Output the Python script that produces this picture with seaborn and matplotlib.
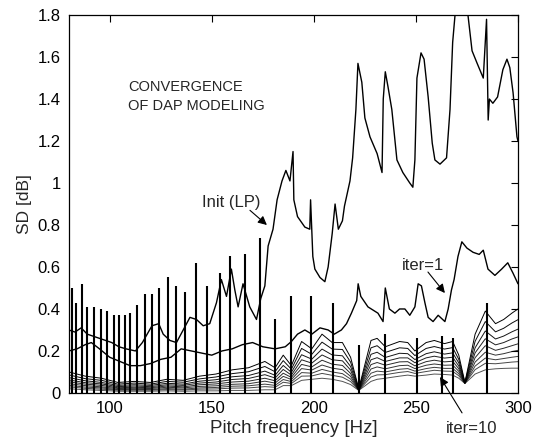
import numpy as np
import pandas as pd
import matplotlib
matplotlib.use("Agg")
import matplotlib.pyplot as plt
import seaborn as sns

# ---- data ----
# initial LP model
init_hz = [80, 83, 86, 89, 92, 95, 98, 101, 104.5, 108, 112.6, 116, 120.7, 124, 126.2, 129.5,
           132.7, 136, 139.3, 142.5, 145.8, 149, 152.3, 154.7, 157.2, 159.6, 161.3, 162.9, 165.3,
           168.6, 171.9, 174, 176, 177.6, 180, 182, 184.4, 186.3, 188.3, 189.8, 190.2, 192, 195.6,
           198, 198.4, 199.5, 200.5, 203, 205.4, 207, 209, 210.4, 212, 214, 215, 217.7, 219, 220.6,
           221.6, 223.5, 225, 227.5, 231, 233.4, 234, 235, 236.3, 238.2, 240.7, 243.6, 247, 248.5,
           249.5, 250.5, 252.5, 254, 256, 258, 259.3, 261.8, 265, 266.7, 268, 269.6, 272, 274,
           275.5, 277.5, 280, 283, 284.6, 285.4, 286, 287.7, 290, 292.6, 294.6, 296, 297.6, 299.5, 300]
init_sd = [.30, .29, .31, .28, .27, .26, .25, .24, .22, .21, .20, .24, .32, .33, .28, .25,
           .24, .30, .36, .35, .32, .33, .43, .54, .46, .59, .49, .41, .52,
           .41, .35, .45, .51, .70, .78, .92, 1.01, 1.06, 1.01, 1.15, .92, .84, .79,
           .78, .92, .65, .59, .55, .53, .60, .76, .90, .78, .82, .89, 1.01, 1.12, 1.35,
           1.57, 1.48, 1.31, 1.22, 1.14, 1.05, 1.40, 1.53, 1.46, 1.35, 1.11, 1.05, 1.00, .98,
           1.11, 1.50, 1.62, 1.59, 1.41, 1.19, 1.11, 1.09, 1.12, 1.35, 1.67, 1.85, 2.1, 1.95,
           1.8, 1.63, 1.57, 1.50, 1.78, 1.30, 1.40, 1.38, 1.41, 1.54, 1.59, 1.55, 1.43, 1.22, 1.20]

# first iteration
it1_hz = [80, 84, 88, 91, 95, 100, 105, 110, 115, 120, 125, 130, 135, 140, 145, 150, 155, 160,
          165, 170, 175, 181, 186, 189, 192, 195.6, 199, 203, 207, 210, 213.5, 216, 218.4, 221,
          221.7, 223, 226.5, 231.4, 233.9, 235, 237, 239.7, 242, 244.6, 247, 249.5, 251.1, 252.7,
          254.4, 256, 258.4, 260.9, 264.2, 265.8, 267.4, 268.7, 270.6, 272.5, 275, 278, 281, 283,
          285.3, 288.7, 292, 295, 297.6, 300]
it1_sd = [.20, .21, .23, .24, .21, .17, .15, .13, .13, .14, .16, .17, .21, .20, .19, .18, .20, .21,
          .23, .24, .22, .21, .22, .245, .28, .30, .28, .31, .30, .28, .30, .33, .38, .44,
          .52, .46, .41, .38, .34, .50, .40, .38, .40, .40, .37, .41, .52, .51,
          .43, .36, .34, .37, .34, .40, .49, .54, .65, .72, .69, .67, .66, .68,
          .59, .56, .59, .62, .57, .52]

# iterations 2..10 share one frequency grid
fan_hz = [80, 88, 96, 104, 112, 120, 128, 136, 144, 152, 160, 168, 176, 181, 185, 189, 194, 199,
          204, 209, 214, 218, 222, 228, 231, 235, 242, 246, 249.5, 255, 259, 264, 268, 271, 274,
          279, 284, 289, 293, 297, 300]
it2_sd = [.10, .08, .07, .05, .055, .05, .065, .06, .08, .09, .11, .12, .15, .12, .18, .13, .245, .21,
          .28, .24, .24, .17, .02, .25, .26, .22, .245, .24, .20, .24, .25, .235, .245, .18, .05,
          .28, .39, .33, .35, .38, .40]
it3_sd = [.086, .068, .060, .042, .047, .042, .055, .051, .067, .076, .092, .101, .126, .101, .154, .113,
          .212, .184, .242, .209, .207, .147, .019, .215, .225, .193, .215, .212, .178, .212, .221, .209,
          .216, .160, .049, .246, .340, .291, .308, .333, .349]
it4_sd = [.073, .058, .050, .036, .039, .036, .046, .042, .056, .063, .077, .083, .104, .084, .131, .098,
          .182, .161, .209, .181, .177, .126, .017, .184, .194, .169, .189, .187, .159, .187, .196, .185,
          .191, .143, .048, .215, .295, .257, .271, .291, .304]
it5_sd = [.062, .049, .043, .030, .033, .030, .039, .036, .047, .052, .064, .069, .087, .071, .112, .085,
          .158, .142, .181, .158, .153, .109, .016, .158, .168, .150, .167, .167, .144, .167, .175, .166,
          .170, .128, .048, .191, .258, .229, .240, .257, .267]
it6_sd = [.053, .042, .036, .025, .027, .025, .033, .029, .039, .043, .052, .056, .070, .058, .094, .074,
          .136, .124, .156, .137, .131, .093, .015, .135, .145, .132, .148, .149, .129, .149, .156, .148,
          .151, .115, .047, .168, .225, .203, .213, .225, .234]
it7_sd = [.044, .035, .029, .021, .022, .021, .027, .024, .031, .034, .041, .044, .056, .047, .079, .064,
          .116, .109, .133, .118, .111, .079, .014, .114, .124, .115, .130, .132, .116, .132, .138, .132,
          .133, .103, .047, .147, .194, .180, .187, .197, .203]
it8_sd = [.036, .028, .024, .016, .017, .016, .021, .018, .024, .026, .032, .034, .042, .036, .064, .054,
          .097, .094, .112, .100, .092, .066, .014, .094, .104, .100, .113, .116, .104, .116, .122, .117,
          .117, .092, .046, .128, .166, .158, .164, .170, .174]
it9_sd = [.029, .022, .018, .013, .013, .013, .016, .014, .018, .019, .023, .024, .030, .027, .051, .045,
          .080, .081, .093, .084, .075, .054, .013, .076, .086, .087, .098, .102, .093, .102, .108, .104,
          .103, .082, .046, .111, .141, .139, .143, .147, .149]
it10_sd = [.02, .015, .012, .008, .008, .008, .01, .008, .01, .01, .012, .012, .015, .015, .035, .035,
           .06, .065, .07, .065, .055, .04, .012, .055, .065, .07, .08, .085, .08, .085, .09, .088,
           .085, .07, .045, .09, .11, .115, .117, .118, .118]

# narrow spikes (pitch harmonics) crossing all curves
spike_hz = [81.3, 83.3, 86.5, 89, 92.2, 95.5, 98.8, 102, 104.5, 107.4, 110, 113.4, 117.5, 120.5,
            124.3, 128.7, 132.4, 136.8, 142.5, 147.7, 154, 158.8, 166.2, 173.5, 180.8, 189, 198.8,
            209.4, 222, 235, 250.5, 263, 268, 285]
spike_top = [.50, .43, .52, .41, .41, .40, .39, .37, .37, .37, .38, .42, .47, .47,
             .50, .55, .51, .48, .62, .51, .57, .65, .66, .74, .35, .46, .46,
             .43, .23, .28, .26, .27, .26, .43]

x_ticks = [100, 150, 200, 250, 300]
y_ticks = [0, 0.2, 0.4, 0.6, 0.8, 1.0, 1.2, 1.4, 1.6, 1.8]
y_tick_labels = ["0", "0.2", "0.4", "0.6", "0.8", "1", "1.2", "1.4", "1.6", "1.8"]

sns.set_style("white")
plt.rcParams['font.family'] = ['Liberation Sans', 'DejaVu Sans']

fig = plt.figure(figsize=(5.34, 4.44), dpi=100)
ax = fig.add_axes([0.129, 0.115, 0.841, 0.851])

fan = [it2_sd, it3_sd, it4_sd, it5_sd, it6_sd, it7_sd, it8_sd, it9_sd, it10_sd]
for k, sd in enumerate(fan):
    sns.lineplot(x=fan_hz, y=sd, color="k", lw=0.7, alpha=1.0 - 0.04 * k,
                 estimator=None, sort=False, ax=ax)

ax.vlines(spike_hz, 0, spike_top, color="k", lw=1.5)

sns.lineplot(x=it1_hz, y=it1_sd, color="k", lw=1.0, estimator=None, sort=False, ax=ax)
sns.lineplot(x=init_hz, y=init_sd, color="k", lw=1.0, estimator=None, sort=False, ax=ax)

ax.set_xlim(80, 300)
ax.set_ylim(0, 1.8)
ax.set_xticks(x_ticks)
ax.set_yticks(y_ticks)
ax.set_yticklabels(y_tick_labels)
ax.tick_params(direction="in", top=True, right=True, length=5, width=0.8,
               labelsize=12, pad=6, colors="k")
for s in ax.spines.values():
    s.set_color("k")
    s.set_linewidth(0.9)

ax.set_xlabel("Pitch frequency [Hz]", fontsize=13.5, labelpad=3)
ax.set_ylabel("SD [dB]", fontsize=12.5, labelpad=4)

ax.text(109, 1.49, "CONVERGENCE\nOF DAP MODELING", fontsize=10.5, va="top",
        ha="left", linespacing=1.45)

arrow = dict(arrowstyle="-|>", color="k", lw=0.8, mutation_scale=13, shrinkA=0, shrinkB=0)
ax.text(145, 0.885, "Init (LP)", fontsize=12, ha="left", va="baseline")
ax.annotate("", xy=(177, 0.80), xytext=(168.7, 0.87), arrowprops=arrow)
ax.text(243, 0.585, "iter=1", fontsize=12, ha="left", va="baseline")
ax.annotate("", xy=(264.2, 0.476), xytext=(255.9, 0.576), arrowprops=arrow)
ax.text(264.5, -0.19, "iter=10", fontsize=12, ha="left", va="baseline", clip_on=False)
ax.annotate("", xy=(261.8, 0.076), xytext=(272.6, -0.095), arrowprops=arrow,
            annotation_clip=False)

fig.savefig("out.png", dpi=100)
